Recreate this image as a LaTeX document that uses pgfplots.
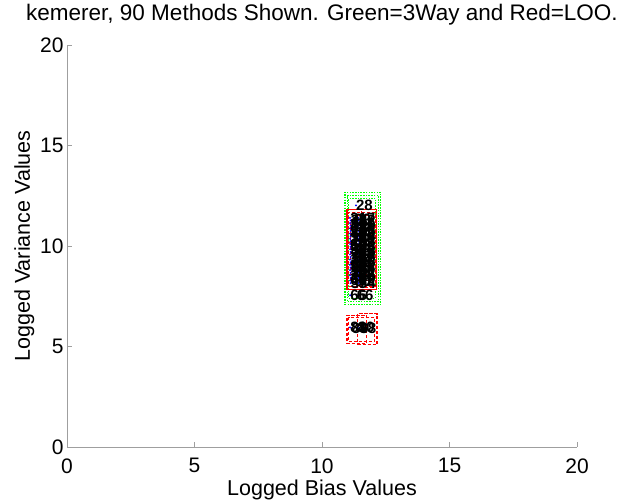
\documentclass[border=0pt]{standalone}
\usepackage{pgfplots}
\pgfplotsset{compat=1.18}
\usepackage{pgfplotstable}
\usepackage{fontspec}
\setmainfont{Liberation Sans}

\definecolor{mgreen}{rgb}{0,1,0}
\definecolor{mred}{rgb}{1,0,0}
\definecolor{mblue}{rgb}{0,0,1}

% method positions and their numbers
\pgfplotstableread{
x y lab
11.33 12.02 28
11.10 11.40 31
11.42 11.40 17
11.26 11.33 90
11.12 11.27 35
11.44 11.27 22
11.10 11.14 14
11.42 11.14 47
11.26 11.08 89
11.12 11.01 52
11.44 11.01 39
11.10 10.88 63
11.42 10.88 18
11.26 10.81 87
11.12 10.75 70
11.44 10.75 26
11.10 10.62 43
11.42 10.62 58
11.26 10.55 85
11.12 10.49 11
11.44 10.49 84
11.10 10.36 36
11.42 10.36 29
11.26 10.30 82
11.12 10.23 75
11.44 10.23 53
11.10 10.10 62
11.42 10.10 48
11.26 10.04 79
11.12 9.97 19
11.44 9.97 33
11.10 9.84 57
11.42 9.84 24
11.26 9.78 78
11.12 9.71 41
11.44 9.71 68
11.10 9.58 72
11.42 9.58 55
11.26 9.51 76
11.12 9.45 13
11.44 9.45 46
11.10 9.32 21
11.42 9.32 77
11.26 9.25 74
11.12 9.19 38
11.44 9.19 65
11.10 9.06 50
11.42 9.06 27
11.26 9.00 73
11.12 8.93 83
11.44 8.93 44
11.10 8.80 16
11.42 8.80 59
11.26 8.73 69
11.12 8.67 30
11.44 8.67 71
11.10 8.54 25
11.42 8.54 67
11.26 8.47 64
11.12 8.41 34
11.44 8.41 49
11.10 8.28 61
11.42 8.28 42
11.26 8.22 60
11.12 8.15 37
11.44 8.15 54
11.10 7.55 66
11.36 7.55 66
11.10 5.95 81
11.16 5.90 86
11.40 5.95 80
11.46 5.90 88
}\methods

\begin{document}
\begin{tikzpicture}
\path[use as bounding box] (0,0) rectangle (621bp,501bp);
\begin{axis}[
  at={(67bp,54bp)}, anchor=south west,
  scale only axis, width=510bp, height=402bp,
  xmin=0, xmax=20, ymin=0, ymax=20,
  axis x line*=bottom, axis y line*=left,
  axis line style={gray!75, line width=0.8pt},
  xtick={0,5,...,20}, ytick={0,5,...,20},
  tick align=inside, major tick length=5bp,
  tick style={gray!75, line width=0.8pt},
  ticklabel style={font=\fontsize{21bp}{24bp}\selectfont},
  /pgf/number format/assume math mode=true,
  xticklabel style={yshift=-8bp},
  label style={font=\fontsize{21.5bp}{24bp}\selectfont},
  xlabel={Logged Bias Values},
  ylabel={Logged Variance Values},
  xlabel style={yshift=0bp},
  ylabel style={yshift=-1bp},
  title={kemerer, 90 Methods Shown. Green=3Way and Red=LOO.},
  title style={font=\fontsize{22.5bp}{26bp}\selectfont, at={(0.5,1)}, anchor=base, yshift=19bp},
  clip=false,
]
% 3Way ranges
\addplot[mgreen, dash pattern=on 1.5pt off 1.2pt, line width=1.2pt] coordinates
  {(10.90,7.08) (12.30,7.08) (12.30,12.67) (10.90,12.67) (10.90,7.08)};
\addplot[mgreen, dash pattern=on 1.5pt off 1.2pt, line width=1.2pt] coordinates
  {(11.00,7.25) (12.22,7.25) (12.22,12.50) (11.00,12.50) (11.00,7.25)};
\addplot[mgreen, dash pattern=on 1.5pt off 1.2pt, line width=1.2pt] coordinates
  {(11.05,7.40) (12.10,7.40) (12.10,12.35) (11.05,12.35) (11.05,7.40)};
% LOO ranges
\addplot[mred, line width=1.6pt] coordinates
  {(10.98,7.83) (12.14,7.83) (12.14,11.82) (10.98,11.82) (10.98,7.83)};
\addplot[mred, densely dashed, line width=1pt] coordinates
  {(11.05,8.00) (12.08,8.00) (12.08,11.65) (11.05,11.65) (11.05,8.00)};
\addplot[mred, densely dashed, line width=1pt] coordinates
  {(11.12,8.30) (11.95,8.30) (11.95,11.30) (11.12,11.30) (11.12,8.30)};
\addplot[mred, densely dashed, line width=1pt] coordinates
  {(11.30,7.95) (12.02,7.95) (12.02,11.50) (11.30,11.50) (11.30,7.95)};
\addplot[mred, densely dashed, line width=1pt] coordinates
  {(11.55,7.90) (11.55,11.75)};
\addplot[mred, densely dashed, line width=0.8pt] coordinates
  {(11.05,9.10) (12.08,9.10)};
\addplot[mred, densely dashed, line width=0.8pt] coordinates
  {(11.05,10.20) (12.08,10.20)};
\addplot[mred, densely dashed, line width=0.8pt] coordinates
  {(11.05,10.90) (12.08,10.90)};
\addplot[mred, densely dashed, line width=0.8pt] coordinates
  {(11.05,8.60) (12.08,8.60)};
\addplot[mred, dash pattern=on 3.5pt off 1.5pt, line width=1.2pt] coordinates
  {(10.98,5.15) (11.75,5.15) (11.75,6.55) (10.98,6.55) (10.98,5.15)};
\addplot[mred, dash pattern=on 3.5pt off 1.5pt, line width=1.2pt] coordinates
  {(11.40,5.09) (12.16,5.09) (12.16,6.63) (11.40,6.63) (11.40,5.09)};
\addplot[mred, dash pattern=on 3.5pt off 1.5pt, line width=1.2pt] coordinates
  {(11.05,5.25) (12.05,5.25) (12.05,6.45) (11.05,6.45) (11.05,5.25)};
% method points
\addplot[only marks, mark=*, mark size=0.7pt, mblue] table[x=x, y=y] {\methods};
% method numbers
\addplot[only marks, mark=none,
  nodes near coords, point meta=explicit symbolic,
  nodes near coords align={anchor=west},
  every node near coord/.append style={font=\fontsize{15bp}{18bp}\selectfont\bfseries, inner sep=0pt, black, anchor=west}]
  table[x=x, y=y, meta=lab] {\methods};
\end{axis}
\end{tikzpicture}
\end{document}
